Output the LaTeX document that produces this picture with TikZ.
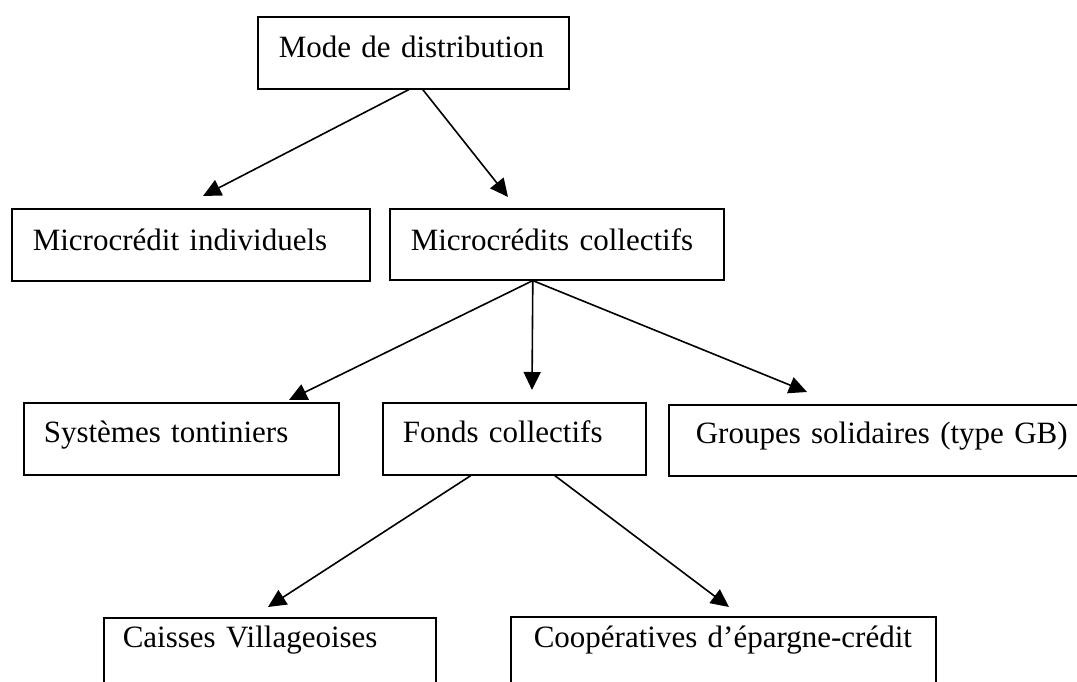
\documentclass[tikz,border=0pt]{standalone}
\usepackage{fontspec}
\setmainfont{Liberation Serif}
\usetikzlibrary{arrows.meta}
\tikzset{
  box/.style={draw, line width=1.6pt, inner sep=0pt, anchor=north west, align=left,
    font=\fontsize{31}{37}\selectfont},
  link/.style={line width=1.6pt, -{Triangle[length=18pt,width=17pt]}}
}
\begin{document}
\begin{tikzpicture}[x=1pt,y=-1pt]
\useasboundingbox (0,0) rectangle (1077,682);
\clip (0,0) rectangle (1077,682);
\node[box, text width=311pt, text height=41pt, text depth=31pt] (b1) at (257,16) {\hspace*{21pt}Mode de distribution};
\node[box, text width=358pt, text height=42pt, text depth=30pt] (b2) at (11,208) {\hspace*{21pt}Microcrédit individuels};
\node[box, text width=334pt, text height=42pt, text depth=29pt] (b3) at (389,208) {\hspace*{21pt}Microcrédits collectifs};
\node[box, text width=315pt, text height=40pt, text depth=32pt] (b4) at (23,402) {\hspace*{20pt}Systèmes tontiniers};
\node[box, text width=450pt, text height=39pt, text depth=32pt] (b6) at (668,404) {\hspace*{27pt}Groupes solidaires (type GB)};
\node[box, text width=263pt, text height=40pt, text depth=32pt] (b5) at (382,402) {\hspace*{20pt}Fonds collectifs};
\node[box, text width=332pt, text height=30pt, text depth=60pt] (b7) at (103,617) {\hspace*{19pt}Caisses Villageoises};
\node[box, text width=425pt, text height=31pt, text depth=60pt] (b8) at (510,616) {\hspace*{23pt}Coopératives d’épargne-crédit};
\coordinate (t1) at (203,196);
\coordinate (t2) at (508,197);
\coordinate (t3) at (289,400);
\coordinate (t4) at (532,390);
\coordinate (t5) at (807,392);
\coordinate (t6) at (268,607);
\coordinate (t7) at (729,607);
\draw[link] ([xshift=-4.5pt]b1.south) -- (t1);
\draw[link] ([xshift=9.5pt]b1.south) -- (t2);
\draw[link] ([xshift=-24pt]b3.south) -- (t3);
\draw[link] ([xshift=-24pt]b3.south) -- (t4);
\draw[link] ([xshift=-24pt]b3.south) -- (t5);
\draw[link] ([xshift=-43.5pt]b5.south) -- (t6);
\draw[link] ([xshift=40.5pt]b5.south) -- (t7);
\end{tikzpicture}
\end{document}
